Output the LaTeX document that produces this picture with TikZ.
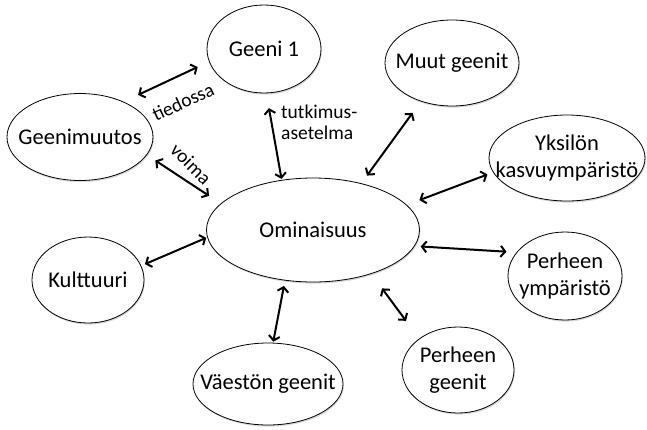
\documentclass[tikz,border=0pt]{standalone}
\usepackage{fontspec}
\setmainfont{Carlito}
\usepackage{tikz}
\usetikzlibrary{positioning, arrows.meta, shapes.geometric, shadows}

\begin{document}
\begin{tikzpicture}[x=1pt, y=-1pt, >={Straight Barb[length=4.5pt, width=11pt]},
        every node/.style={font=\fontsize{22.5}{27}\selectfont},
        trait/.style={draw, ellipse, fill=white, line width=0.8pt, inner sep=-30pt, align=center,
            drop shadow={shadow xshift=0.8pt, shadow yshift=-1.6pt, opacity=0.3}},
        lbl/.style={font=\fontsize{19.5}{21}\selectfont, inner sep=0pt},
        link/.style={<->, line width=2pt}]
        \useasboundingbox (0,0) rectangle (647,429);
        \node[trait, minimum width=213pt, minimum height=104pt] (om) at (313,230) {Ominaisuus};
        \node[trait, minimum width=114pt, minimum height=88pt] (geeni) at (264,49) {Geeni 1};
        \node[trait, minimum width=146pt, minimum height=87pt] (muutos) at (80,137) {Geenimuutos};
        \node[trait, minimum width=134pt, minimum height=86pt] (muut) at (452,63) {Muut geenit};
        \node[trait, minimum width=156pt, minimum height=86pt] (yks) at (567,158) {Yksilön\\kasvuympäristö};
        \node[trait, minimum width=114pt, minimum height=88pt] (pymp) at (565,276) {Perheen\\ympäristö};
        \node[trait, minimum width=112pt, minimum height=86pt] (pgeen) at (458,370) {Perheen\\geenit};
        \node[trait, minimum width=150pt, minimum height=82pt] (vaesto) at (268,384) {Väestön geenit};
        \node[trait, minimum width=112pt, minimum height=86pt] (kult) at (88,280) {Kulttuuri};
        % connectors
        \draw[link, shorten <=16pt, shorten >=12.5pt] (muutos.39) -- (geeni.193);
        \draw[link, shorten <=10pt, shorten >=14pt] (muutos.-15) -- (om.164);
        \draw[link, shorten <=15pt, shorten >=1pt] (geeni.-87) -- (om.122);
        \draw[link, shorten <=14pt, shorten >=9.5pt] (muut.231) -- (om.44);
        \draw[link, shorten <=6pt, shorten >=13.5pt] (yks.191) -- (om.15);
        \draw[link, shorten <=10pt, shorten >=6pt] (pymp.154) -- (om.-9.5);
        \draw[link, shorten <=22pt, shorten >=18pt] (pgeen.141) -- (om.-37.4);
        \draw[link, shorten <=1pt, shorten >=5.5pt] (vaesto.83) -- (om.241.4);
        \draw[link, shorten <=4pt, shorten >=1pt] (kult.15) -- (om.184);
        % labels
        \node[lbl, rotate=25] (tied) at (183,102) {tiedossa};
        \node[lbl, rotate=-45] (voima) at (191,164) {voima};
        \node[lbl, align=left, anchor=west] (tutk) at (281,122) {tutkimus-\\asetelma};
    \end{tikzpicture}
\end{document}
